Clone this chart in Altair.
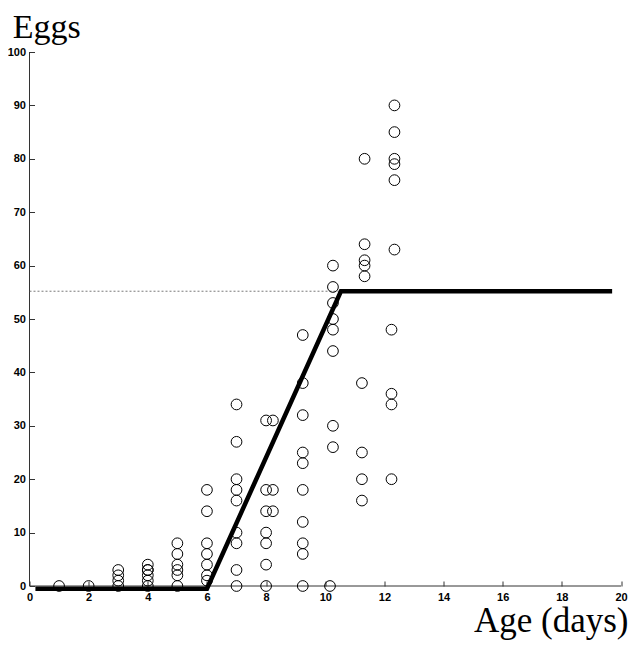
import altair as alt
import pandas as pd

# ---- data ----
ages = ([1.0] + [2.0] + [3.0] * 4 + [4.0] * 6 + [5.0] * 6 + [6.0] * 7 + [7.0] * 9
        + [8.0] * 7 + [8.23] * 3 + [9.24] * 10 + [10.26] * 8 + [10.16]
        + [11.33] * 5 + [11.24] * 4 + [12.34] * 6 + [12.24] * 4)
eggs = ([0] + [0] + [0, 1, 2, 3] + [0, 1, 2, 3, 3, 4] + [0, 2, 3, 4, 6, 8]
        + [1, 2, 4, 6, 8, 14, 18] + [0, 3, 8, 10, 16, 18, 20, 27, 34]
        + [0, 4, 8, 10, 14, 18, 31] + [14, 18, 31]
        + [0, 6, 8, 12, 18, 23, 25, 32, 38, 47]
        + [26, 30, 44, 48, 50, 53, 56, 60] + [0]
        + [58, 60, 61, 64, 80] + [16, 20, 25, 38]
        + [63, 76, 79, 80, 85, 90] + [20, 34, 36, 48])

fit_age = [0.2, 6.0, 10.53, 19.7]
fit_eggs = [-0.5, -0.5, 55.2, 55.2]
ref_age = [0.0, 10.5]
ref_eggs = [55.2, 55.2]
x_ticks = list(range(0, 21, 2))
y_ticks = list(range(0, 101, 10))

pts = pd.DataFrame({"age": ages, "eggs": eggs})
fit = pd.DataFrame({"age": fit_age, "eggs": fit_eggs, "order": range(len(fit_age))})
ref = pd.DataFrame({"age": ref_age, "eggs": ref_eggs})
xdom = pd.DataFrame({"age": [0], "age2": [20], "eggs": [0]})
ydom = pd.DataFrame({"age": [0], "eggs": [0], "eggs2": [100]})

xscale = alt.Scale(domain=[0, 20], nice=False, zero=False)
yscale = alt.Scale(domain=[0, 100], nice=False, zero=False)

common_axis = dict(offset=-5, tickSize=5, domain=False, grid=False,
                   labelFont="Liberation Sans", labelFontWeight="bold",
                   labelFontSize=11, labelColor="black", tickColor="#333",
                   tickWidth=1, title=None, labelFlush=False)
xaxis = alt.Axis(values=x_ticks, labelPadding=5, **common_axis)
yaxis = alt.Axis(values=y_ticks, labelPadding=4, **common_axis)

X = alt.X("age:Q", scale=xscale, axis=xaxis)
Y = alt.Y("eggs:Q", scale=yscale, axis=yaxis)

xline = alt.Chart(xdom).mark_rule(color="#333", strokeWidth=1).encode(
    x=X, x2="age2:Q", y=Y,
)
yline = alt.Chart(ydom).mark_rule(color="#333", strokeWidth=1).encode(
    x=X, y=Y, y2="eggs2:Q",
)

refline = alt.Chart(ref).mark_line(color="#555", strokeWidth=0.8, strokeDash=[2, 2]).encode(
    x=X, y=Y,
)

fitline = alt.Chart(fit).mark_line(color="black", strokeWidth=4.5, strokeCap="butt").encode(
    x=X, y=Y, order="order:Q",
)

points = alt.Chart(pts).mark_point(
    shape="circle", filled=False, color="black", strokeWidth=1, size=115, opacity=1
).encode(x=X, y=Y)

ytitle = alt.Chart(pd.DataFrame({"t": ["Eggs"]})).mark_text(
    font="Liberation Serif", fontSize=34, align="left", baseline="alphabetic", color="black"
).encode(x=alt.value(-16.8), y=alt.value(-14), text="t:N")

xtitle = alt.Chart(pd.DataFrame({"t": ["Age (days)"]})).mark_text(
    font="Liberation Serif", fontSize=35, align="right", baseline="alphabetic", color="black"
).encode(x=alt.value(599), y=alt.value(580), text="t:N")

chart = alt.layer(xline, yline, refline, fitline, points, ytitle, xtitle).properties(
    width=591.5, height=534,
    padding={"left": 21.5, "top": 44, "right": 8, "bottom": 57},
    autosize=alt.AutoSizeParams(type="none"),
    background="white",
).configure_view(stroke=None)

chart.save("out.html", embed_options={"renderer": "svg", "actions": False})
